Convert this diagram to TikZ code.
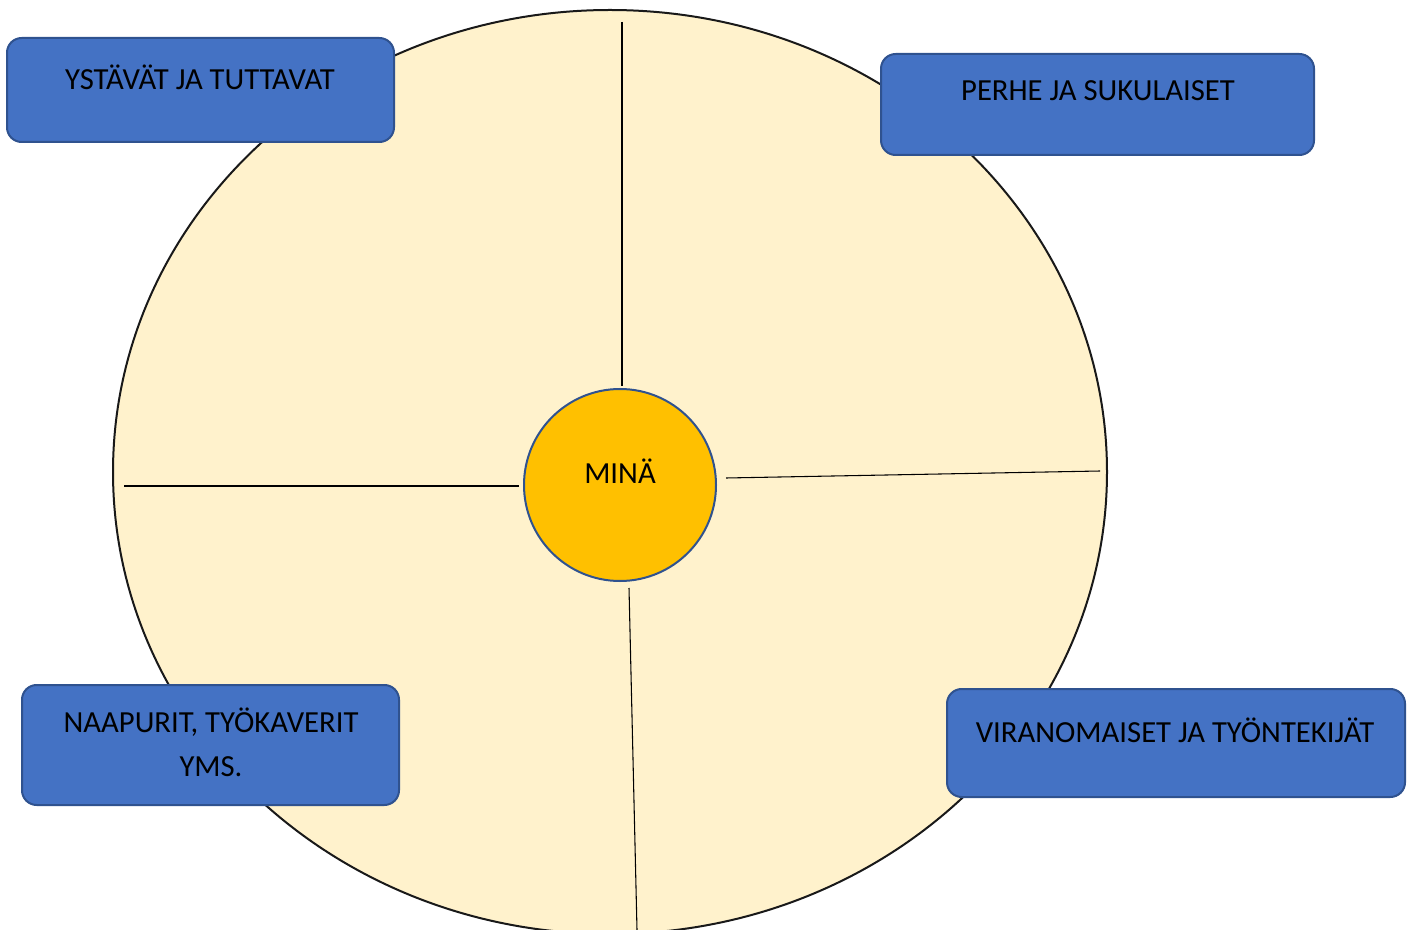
\documentclass[tikz,border=0pt]{standalone}
\usepackage{fontspec}
\setmainfont{Carlito}
\definecolor{boxblue}{HTML}{4472C4}
\definecolor{boxedge}{HTML}{2F528F}
\definecolor{bgfill}{HTML}{FFF2CC}
\definecolor{sun}{HTML}{FFC000}
\tikzset{
  group/.style={draw=boxedge, line width=1.5pt, fill=boxblue, rounded corners=11pt},
  lbl/.style={font=\fontsize{23}{33}\selectfont, text=black, align=center, inner sep=0pt},
  divider/.style={draw=black, line width=0.8pt},
}
\begin{document}
\begin{tikzpicture}[x=0.75pt,y=-0.75pt]
\useasboundingbox (0,0) rectangle (1413,930);
\begin{scope}
\clip (0,0) rectangle (1413,930);
\draw[fill=bgfill, draw=black!90, line width=1.5pt] (610,472) ellipse [x radius=497, y radius=462];
\end{scope}
% divider endpoints
\coordinate (t1) at (622,22);
\coordinate (t2) at (622,386);
\coordinate (l1) at (124,486);
\coordinate (l2) at (519,486);
\coordinate (r1) at (726,478);
\coordinate (r2) at (1100,471);
\coordinate (b1) at (629,588);
\coordinate (b2) at (637,930);
\draw[divider] (t1) -- (t2);
\draw[divider] (l1) -- (l2);
\draw[divider] (r1) -- (r2);
\draw[divider] (b1) -- (b2);
% center
\node[circle, draw=boxedge, line width=1.5pt, fill=sun, minimum size=192*0.75pt, inner sep=0pt] (me) at (620,485) {};
\node[lbl] (metxt) at (620,471) {MINÄ};
% boxes
\draw[group] (7,38) rectangle (394,142);
\node[lbl] (b1t) at (200,77) {YSTÄVÄT JA TUTTAVAT};
\draw[group] (881,54) rectangle (1314,155);
\node[lbl] (b2t) at (1098,91) {PERHE JA SUKULAISET};
\draw[group] (22,685) rectangle (399,805);
\node[lbl] (b3t) at (211,742) {NAAPURIT, TYÖKAVERIT\\YMS.};
\draw[group] (947,689) rectangle (1405,797);
\node[lbl] (b4t) at (1175,730) {VIRANOMAISET JA TYÖNTEKIJÄT};
\end{tikzpicture}
\end{document}
